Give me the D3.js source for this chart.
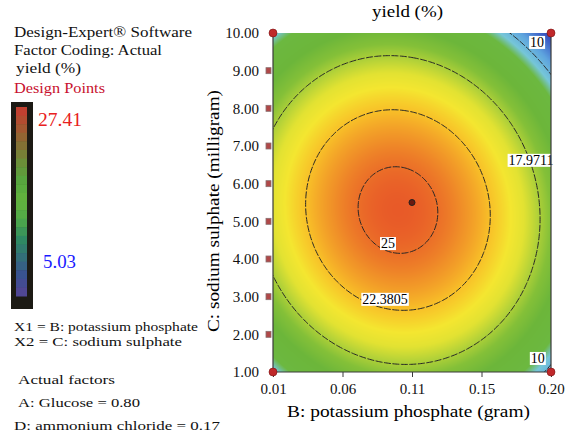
<!DOCTYPE html>
<html lang="en">
<head>
<meta charset="utf-8">
<title>yield (%)</title>
<script src="https://d3js.org/d3.v7.min.js"></script>
<style>
  body { margin: 0; background: #fff; }
  svg { display: block; font-family: "Liberation Serif", "Times New Roman", serif; }
</style>
</head>
<body>
<svg id="chart" width="574" height="439"></svg>
<script>
// axis ticks (B: potassium phosphate, C: sodium sulphate)
const xTickValues = [0.01, 0.0575, 0.105, 0.1525, 0.20];
const xTickLabels = ["0.01", "0.06", "0.11", "0.15", "0.20"];
const yTickValues = [1, 2, 3, 4, 5, 6, 7, 8, 9, 10];
const yTickLabels = ["1.00", "2.00", "3.00", "4.00", "5.00", "6.00", "7.00", "8.00", "9.00", "10.00"];

// fitted quadratic response: centre (B, C)
const surfaceCentre = [0.0954, 5.30];
// intercept, B^2, C^2, B*C
const surfaceCoef = [25.6, 811.2, 0.4555, 2.2];

const contourLevels = [10, 17.9711, 22.3805, 25];
const contourLabelText = ["10", "17.9711", "22.3805", "25", "10"];
const contourLabelB = [0.1905, 0.1864, 0.0866, 0.0886, 0.1910];
const contourLabelC = [9.76, 6.63, 2.94, 4.42, 1.37];

// design points
const designB = [0.01, 0.20, 0.20, 0.01, 0.105];
const designC = [1, 1, 10, 10, 5.5];
const edgePointsC = [2, 3, 4, 5, 6, 7, 8, 9];

const valueRange = [5.03, 27.41];

// colour ramp of the surface
const surfaceStopValues = [5.03, 7, 9, 10.9, 12.1, 15, 16.8, 18.3, 19.6, 20.8, 22.4, 24, 25.6, 27.41];
const surfaceStopColors = ["#3030a0", "#3f64c8", "#5ea4de", "#76c6d8", "#6cb840", "#6cb63a",
  "#84c038", "#b4d238", "#e2e232", "#f4e630", "#f8c028", "#f09028", "#e85a28", "#e03020"];
// muted ramp of the legend bar, top to bottom
const legendColors = ["#c83a30", "#a85430", "#857034", "#6a9038", "#55a83f", "#64b23c",
  "#4ea84a", "#2f8a62", "#336e7a", "#3a4f92", "#574494"];

const svg = d3.select("#chart");

const x = d3.scaleLinear().domain([0.01, 0.20]).range([273, 551]);
const y = d3.scaleLinear().domain([1, 10]).range([372, 33]);

function yieldAt(b, c) {
  const db = b - surfaceCentre[0], dc = c - surfaceCentre[1];
  return surfaceCoef[0] - surfaceCoef[1] * db * db - surfaceCoef[2] * dc * dc - surfaceCoef[3] * db * dc;
}

const colour = d3.scaleLinear().domain(surfaceStopValues).range(surfaceStopColors).clamp(true);

// surface drawn into a canvas, then placed as an image
const pw = Math.round(x.range()[1] - x.range()[0]);
const ph = Math.round(y.range()[0] - y.range()[1]);
const canvas = document.createElement("canvas");
canvas.width = pw; canvas.height = ph;
const ctx = canvas.getContext("2d");
const img = ctx.createImageData(pw, ph);
for (let j = 0; j < ph; j++) {
  for (let i = 0; i < pw; i++) {
    const v = yieldAt(x.invert(x.range()[0] + i + 0.5), y.invert(y.range()[1] + j + 0.5));
    const c = d3.rgb(colour(v));
    const k = (j * pw + i) * 4;
    img.data[k] = c.r; img.data[k + 1] = c.g; img.data[k + 2] = c.b; img.data[k + 3] = 255;
  }
}
ctx.putImageData(img, 0, 0);

svg.append("defs").append("clipPath").attr("id", "plotClip")
  .append("rect").attr("x", x.range()[0]).attr("y", y.range()[1]).attr("width", pw).attr("height", ph);

svg.append("image")
  .attr("x", x.range()[0]).attr("y", y.range()[1])
  .attr("width", pw).attr("height", ph)
  .attr("preserveAspectRatio", "none")
  .attr("href", canvas.toDataURL());

// contour lines, grid a bit larger than the plot so its border gets clipped away
const gb0 = 0.005, gbStep = 0.001, gc0 = 0.8, gcStep = 0.05;
const nx = 201, ny = 189;
const grid = new Array(nx * ny);
for (let j = 0; j < ny; j++)
  for (let i = 0; i < nx; i++)
    grid[j * nx + i] = yieldAt(gb0 + i * gbStep, gc0 + j * gcStep);

const contours = d3.contours().size([nx, ny]).thresholds(contourLevels)(grid);
const path = d3.geoPath(d3.geoTransform({
  point(px, py) { this.stream.point(x(gb0 + (px - 0.5) * gbStep), y(gc0 + (py - 0.5) * gcStep)); }
}));

svg.append("g").attr("clip-path", "url(#plotClip)")
  .selectAll("path").data(contours).join("path")
  .attr("d", path)
  .attr("fill", "none")
  .attr("stroke", "#262626")
  .attr("stroke-width", 1)
  .attr("stroke-dasharray", "7,1.5");

// contour labels
const labels = svg.append("g").attr("font-size", 14);
contourLabelText.forEach((t, i) => {
  const g = labels.append("g");
  const txt = g.append("text")
    .attr("x", x(contourLabelB[i])).attr("y", y(contourLabelC[i]))
    .attr("text-anchor", "middle").attr("dy", "0.35em")
    .text(t);
  const bb = txt.node().getBBox();
  g.insert("rect", "text")
    .attr("x", bb.x - 1).attr("y", bb.y + 1)
    .attr("width", bb.width + 2).attr("height", bb.height - 2)
    .attr("fill", "#fff");
});

// frame: left, bottom, right
const frame = svg.append("g").attr("stroke", "#3a3a3a").attr("stroke-width", 1.2);
frame.append("line").attr("x1", x(0.01)).attr("x2", x(0.01)).attr("y1", y(10)).attr("y2", y(1));
frame.append("line").attr("x1", x(0.01)).attr("x2", x(0.20)).attr("y1", y(1)).attr("y2", y(1));
frame.append("line").attr("x1", x(0.20)).attr("x2", x(0.20)).attr("y1", y(10)).attr("y2", y(1));

// axes
const xAxis = svg.append("g")
  .attr("transform", `translate(0,${y(1)})`)
  .call(d3.axisBottom(x).tickValues(xTickValues).tickFormat((d, i) => xTickLabels[i]).tickSize(5).tickPadding(6));
const yAxis = svg.append("g")
  .attr("transform", `translate(${x(0.01)},0)`)
  .call(d3.axisLeft(y).tickValues(yTickValues).tickFormat((d, i) => yTickLabels[i]).tickSize(0).tickPadding(14));
[xAxis, yAxis].forEach(a => {
  a.select(".domain").remove();
  a.selectAll("line").attr("stroke", "#3a3a3a");
  a.selectAll("text").attr("font-family", "Liberation Serif").attr("font-size", 15).attr("fill", "#111");
});

// design points
svg.append("g").selectAll("rect").data(edgePointsC).join("rect")
  .attr("x", x(0.01) - 7).attr("y", d => y(d) - 3)
  .attr("width", 5).attr("height", 6)
  .attr("fill", "#b04848").attr("stroke", "#8a7070").attr("stroke-width", 0.8);
svg.append("g").selectAll("circle").data(designB.slice(0, 4)).join("circle")
  .attr("cx", d => x(d)).attr("cy", (d, i) => y(designC[i]))
  .attr("r", 4).attr("fill", "#c0282a").attr("stroke", "#7a1010").attr("stroke-width", 0.6);
svg.append("circle")
  .attr("cx", x(designB[4])).attr("cy", y(designC[4]))
  .attr("r", 3).attr("fill", "#6a1a10").attr("stroke", "#222").attr("stroke-width", 1);

// titles
svg.append("text").attr("x", 407.5).attr("y", 17).attr("text-anchor", "middle")
  .attr("font-size", 16).attr("textLength", 71).attr("lengthAdjust", "spacingAndGlyphs").text("yield (%)");
svg.append("text").attr("x", 408.5).attr("y", 417).attr("text-anchor", "middle")
  .attr("font-size", 16).attr("textLength", 243).attr("lengthAdjust", "spacingAndGlyphs")
  .text("B: potassium phosphate (gram)");
svg.append("text").attr("transform", "translate(219,211) rotate(-90)").attr("text-anchor", "middle")
  .attr("font-size", 16).attr("textLength", 242).attr("lengthAdjust", "spacingAndGlyphs")
  .text("C: sodium sulphate (milligram)");

// info panel
const info = [
  { t: "Design-Expert® Software", x: 14, y: 37, w: 178, s: 15.5, c: "#111" },
  { t: "Factor Coding: Actual", x: 14, y: 55, w: 148, s: 15.5, c: "#111" },
  { t: "yield (%)", x: 16, y: 73, w: 65, s: 15.5, c: "#111" },
  { t: "Design Points", x: 14, y: 93, w: 91, s: 15.5, c: "#c8102e" },
  { t: "X1 = B: potassium phosphate", x: 14, y: 331, w: 184, s: 13.5, c: "#111" },
  { t: "X2 = C: sodium sulphate", x: 14, y: 346, w: 168, s: 13.5, c: "#111" },
  { t: "Actual factors", x: 18, y: 384, w: 97, s: 13.5, c: "#111" },
  { t: "A: Glucose = 0.80", x: 18, y: 407, w: 122, s: 13.5, c: "#111" },
  { t: "D: ammonium chloride = 0.17", x: 14, y: 430, w: 206, s: 13.5, c: "#111" }
];
svg.append("g").selectAll("text").data(info).join("text")
  .attr("x", d => d.x).attr("y", d => d.y)
  .attr("font-size", d => d.s).attr("fill", d => d.c)
  .attr("textLength", d => d.w).attr("lengthAdjust", "spacingAndGlyphs")
  .text(d => d.t);

// legend bar
svg.append("rect").attr("x", 11).attr("y", 102).attr("width", 22).attr("height", 207).attr("fill", "#1c1a14");
const legendY = d3.scaleLinear().domain([valueRange[1], valueRange[0]]).range([107, 296]);
const legendColour = d3.scaleLinear()
  .domain(d3.range(legendColors.length).map(i => valueRange[1] - i * (valueRange[1] - valueRange[0]) / (legendColors.length - 1)))
  .range(legendColors);
const nSteps = 22;
const steps = d3.range(nSteps).map(i => valueRange[1] - (i + 0.5) * (valueRange[1] - valueRange[0]) / nSteps);
svg.append("g").selectAll("rect").data(steps).join("rect")
  .attr("x", 16).attr("width", 11)
  .attr("y", (d, i) => legendY(valueRange[1]) + i * (legendY(valueRange[0]) - legendY(valueRange[1])) / nSteps)
  .attr("height", (legendY(valueRange[0]) - legendY(valueRange[1])) / nSteps + 0.5)
  .attr("fill", d => legendColour(d));
svg.append("text").attr("x", 38).attr("y", 126).attr("font-size", 19).attr("fill", "#e82020")
  .attr("textLength", 44).attr("lengthAdjust", "spacingAndGlyphs").text(valueRange[1].toFixed(2));
svg.append("text").attr("x", 43).attr("y", 268).attr("font-size", 19).attr("fill", "#1a1aff")
  .attr("textLength", 33).attr("lengthAdjust", "spacingAndGlyphs").text(valueRange[0].toFixed(2));
</script>
</body>
</html>
